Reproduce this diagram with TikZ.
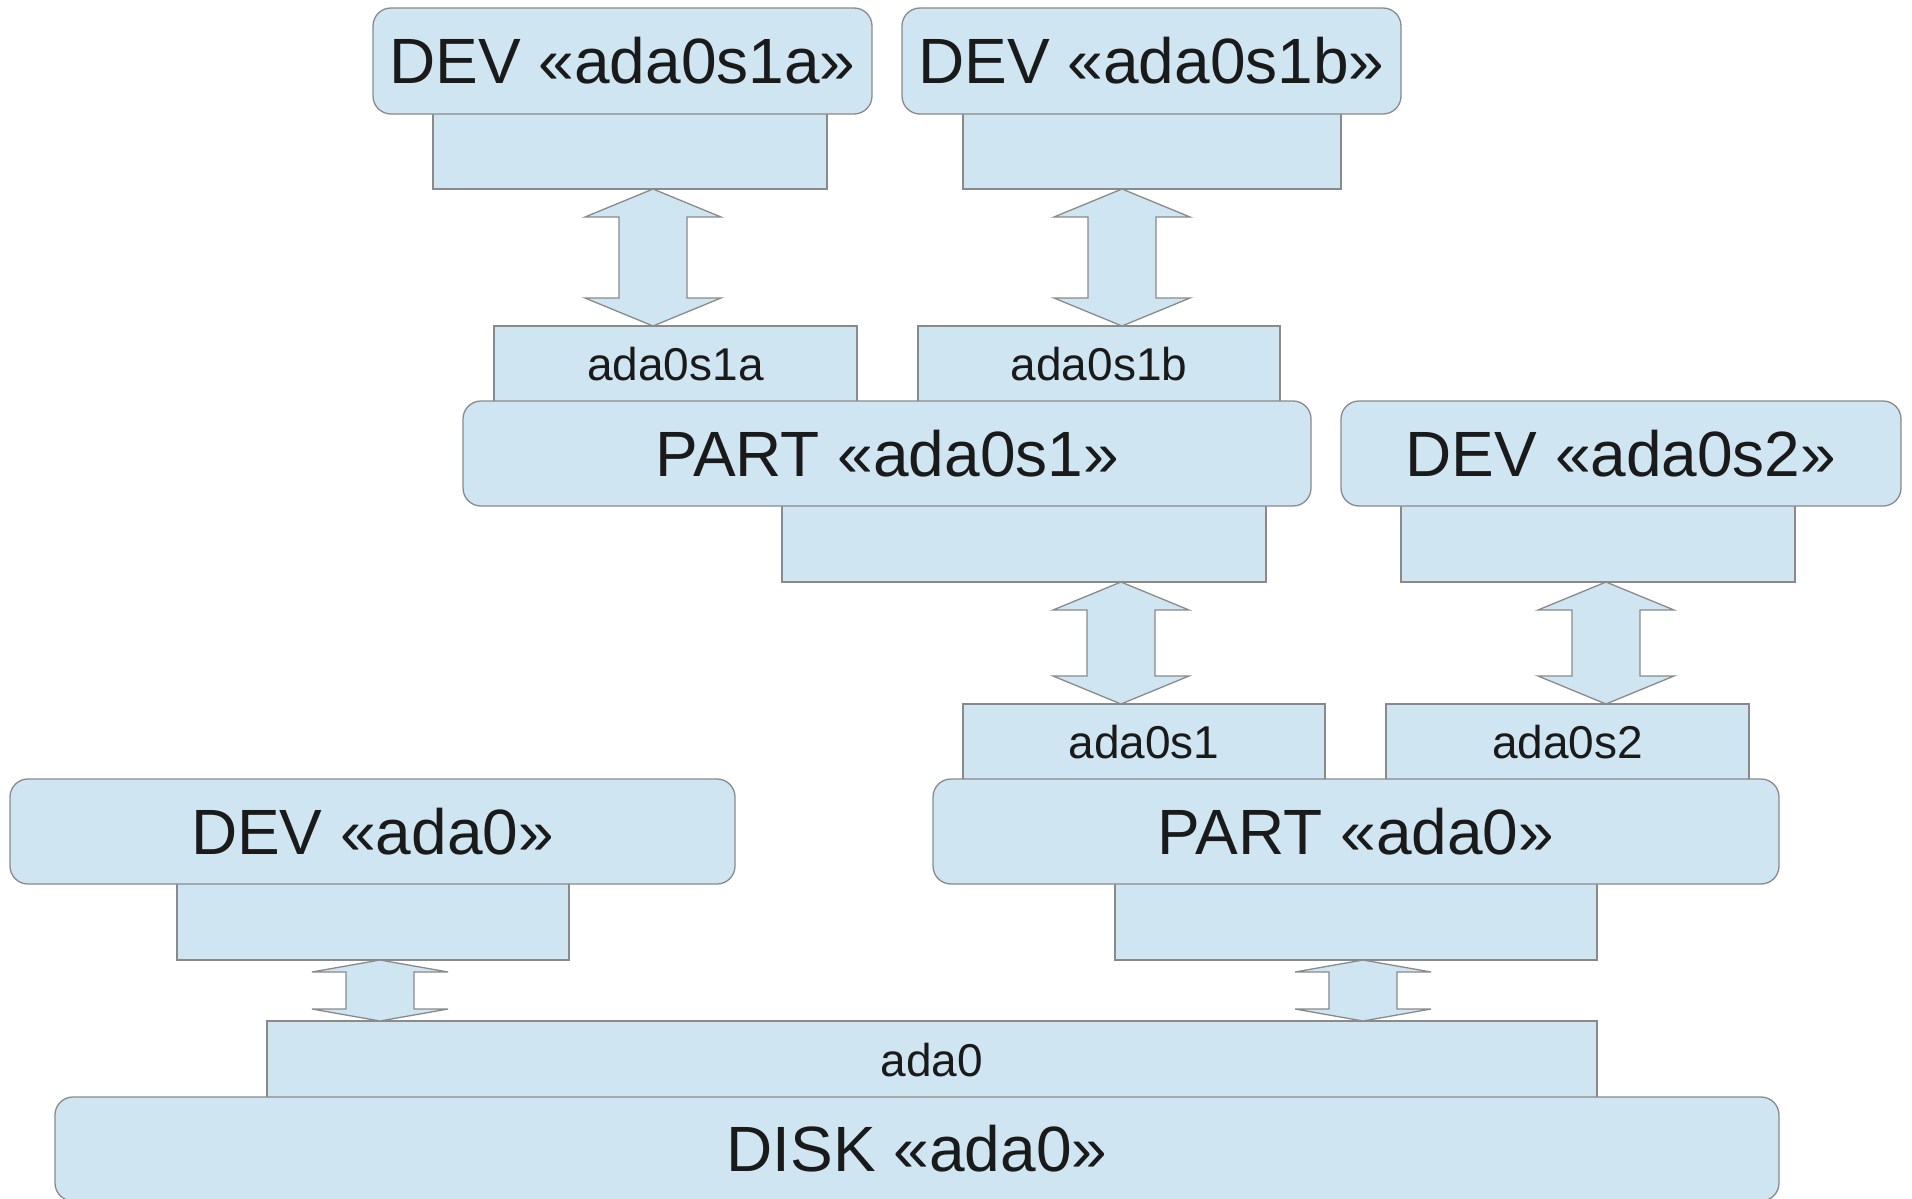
\documentclass[tikz,border=0pt]{standalone}
\usepackage{fontspec}
\setmainfont{Liberation Sans}
\usetikzlibrary{calc}

\definecolor{boxfill}{RGB}{207,229,242}
\definecolor{boxline}{RGB}{138,138,138}
\definecolor{inkcol}{RGB}{26,26,26}

\newcommand\bigfont{\fontsize{64}{64}\selectfont}
\newcommand\smallfont{\fontsize{46}{46}\selectfont}

% block given by its corners: style, name, x1, y1, x2, y2, text
\newcommand\blk[7]{%
  \node[#1, minimum width={#5-#3}, minimum height={#6-#4}] (#2)
    at ({(#3+#5)/2},{(#4+#6)/2}) {#7};}

% two-headed block arrow between the bottom of #1 and the top of #2,
% centred at x = #3, with heads #4 long
\newcommand\link[4]{%
  \path[linkarrow] let \p1=(#1.south), \p2=(#2.north) in
    ({#3pt},\y1) -- ({#3pt+68pt},{\y1-#4pt}) -- ({#3pt+34pt},{\y1-#4pt})
    -- ({#3pt+34pt},{\y2+#4pt}) -- ({#3pt+68pt},{\y2+#4pt}) -- ({#3pt},\y2)
    -- ({#3pt-68pt},{\y2+#4pt}) -- ({#3pt-34pt},{\y2+#4pt})
    -- ({#3pt-34pt},{\y1-#4pt}) -- ({#3pt-68pt},{\y1-#4pt}) -- cycle;}

\tikzset{
  geom/.style={draw=boxline, fill=boxfill, line width=1.3pt, inner sep=0pt,
    outer sep=0pt, text=inkcol},
  unit/.style={geom, rectangle, rounded corners=18pt, font=\bigfont},
  port/.style={geom, rectangle, font=\smallfont},
  linkarrow/.style={draw=boxline, fill=boxfill, line width=1.3pt, line join=miter},
}

\begin{document}
\begin{tikzpicture}[x=1pt, y=-1pt]
  \clip (0,0) rectangle (1912,1199);
  \useasboundingbox (0,0) rectangle (1912,1199);

  % top row: device nodes on the slices
  \blk{port}{portA}{433}{112}{827}{189}{}
  \blk{port}{portB}{963}{112}{1341}{189}{}
  \blk{unit}{devA}{373}{8}{872}{114}{DEV «ada0s1a»}
  \blk{unit}{devB}{902}{8}{1401}{114}{DEV «ada0s1b»}

  % BSD partition table on ada0s1
  \blk{port}{lblA}{494}{326}{857}{403}{ada0s1a}
  \blk{port}{lblB}{918}{326}{1280}{403}{ada0s1b}
  \blk{port}{portS1}{782}{504}{1266}{582}{}
  \blk{port}{portS2}{1401}{504}{1795}{582}{}
  \blk{unit}{partS1}{463}{401}{1311}{506}{PART «ada0s1»}
  \blk{unit}{devS2}{1341}{401}{1901}{506}{DEV «ada0s2»}

  % MBR partition table on ada0
  \blk{port}{lblS1}{963}{704}{1325}{781}{ada0s1}
  \blk{port}{lblS2}{1386}{704}{1749}{781}{ada0s2}
  \blk{port}{portDev0}{177}{882}{569}{960}{}
  \blk{port}{portPart0}{1115}{882}{1597}{960}{}
  \blk{unit}{dev0}{10}{779}{735}{884}{DEV «ada0»}
  \blk{unit}{part0}{933}{779}{1779}{884}{PART «ada0»}

  % the disk itself
  \blk{port}{lbl0}{267}{1021}{1597}{1099}{ada0}
  \blk{unit}{disk}{55}{1097}{1779}{1201}{DISK «ada0»}

  % links between consumers and providers
  \link{portA}{lblA}{653}{28}
  \link{portB}{lblB}{1122}{28}
  \link{portS1}{lblS1}{1121}{28}
  \link{portS2}{lblS2}{1606}{28}
  \link{portDev0}{lbl0}{380}{12}
  \link{portPart0}{lbl0}{1363}{12}
\end{tikzpicture}
\end{document}
